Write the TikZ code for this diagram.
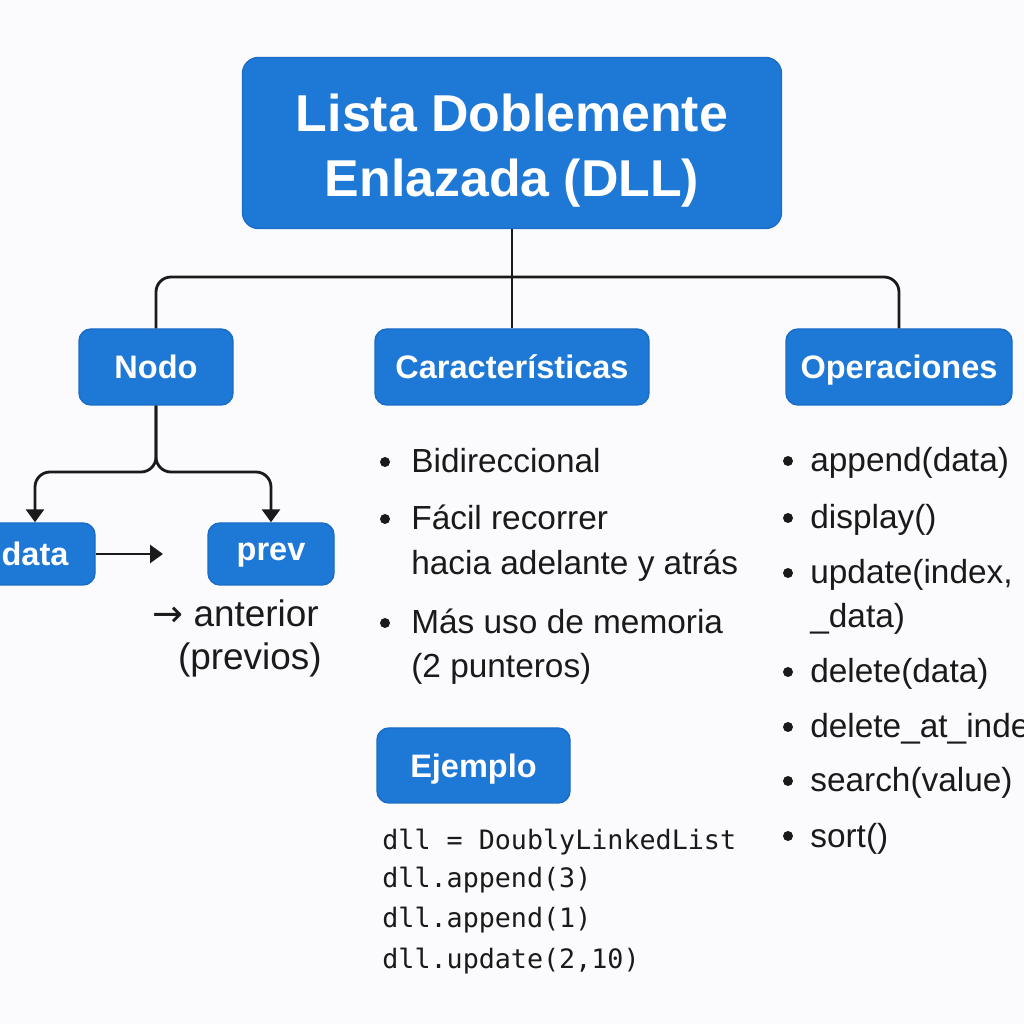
\documentclass[tikz,border=0pt]{standalone}
\usepackage{fontspec}
\setmainfont{Liberation Sans}
\setmonofont{DejaVu Sans Mono}
\newfontfamily\arrowfont{DejaVu Sans}
\usetikzlibrary{arrows.meta}
\definecolor{custom_blue}{HTML}{1E78D6}
\definecolor{custom_edge}{HTML}{1A6CC6}
\definecolor{custom_ink}{HTML}{1A1A1A}
\definecolor{custom_bg}{HTML}{FBFBFD}

\begin{document}
\begin{tikzpicture}[>={Triangle[width=0.36cm,length=0.26cm]},
  box/.style={draw=custom_edge, fill=custom_blue, line width=0.8pt, rounded corners=0.24cm,
    text=white, inner sep=0pt, text height=13.3pt, text depth=0pt,
    font=\fontsize{18.5}{22}\selectfont\bfseries},
  link/.style={custom_ink, line width=1.6pt},
  item/.style={custom_ink, anchor=base west, inner sep=0pt, font=\fontsize{19}{23}\selectfont},
  code/.style={custom_ink, anchor=base west, inner sep=0pt, font=\fontsize{15.2}{18}\selectfont\ttfamily}]

  \fill[custom_bg] (0,0) rectangle (20.48,20.48);
  \useasboundingbox (0,0) rectangle (20.48,20.48);

  % title and the three branches
  \node[box, minimum width=10.78cm, minimum height=3.42cm, rounded corners=0.32cm, align=center,
    text height=, text depth=, font=\fontsize{29.5}{37}\selectfont\bfseries]
    (title) at (10.24,17.62) {\rule{0pt}{30pt}Lista Doblemente\\Enlazada (DLL)};
  \node[box, minimum width=3.08cm, minimum height=1.52cm] (nodo) at (3.12,13.14) {Nodo};
  \node[box, minimum width=5.48cm, minimum height=1.52cm] (car) at (10.24,13.14) {Características};
  \node[box, minimum width=4.52cm, minimum height=1.52cm] (ope) at (17.98,13.14) {Operaciones};

  \coordinate (bar) at (10.24,14.94);
  \draw[link] (title) -- (car);
  \draw[link, rounded corners=0.3cm] (nodo.north) |- (bar) -| (ope.north);

  % the node: data and prev
  \node[box, minimum width=2.4cm, minimum height=1.24cm] (data) at (0.7,9.4) {data};
  \node[box, minimum width=2.52cm, minimum height=1.24cm] (prev) at (5.42,9.4) {\raisebox{3pt}{prev}};

  \coordinate (fork) at (3.12,11.04);
  \coordinate (gap) at (3.26,9.4);
  \draw[link, ->, rounded corners=0.3cm] (nodo.south) -- (fork) -| (data.north);
  \draw[link, ->, rounded corners=0.3cm] (nodo.south) -- (fork) -| (prev.north);
  \draw[link, ->] (data) -- (gap);

  \node[item, anchor=base east, font=\fontsize{21}{25}\selectfont] (ant) at (6.38,7.94) {{\arrowfont →} anterior};
  \node[item, anchor=base east, font=\fontsize{21}{25}\selectfont] (previos) at (6.44,7.08) {(previos)};

  % characteristics
  \node[item] (c1) at (8.22,11.02) {Bidireccional};
  \node[item] (c2) at (8.22,9.88) {Fácil recorrer};
  \node[item] (c2b) at (8.22,8.98) {hacia adelante y atrás};
  \node[item] (c3) at (8.22,7.8) {Más uso de memoria};
  \node[item] (c3b) at (8.22,6.92) {(2 punteros)};
  \fill[custom_ink] (c1.base west) ++(-0.52,0.22) circle (0.1);
  \fill[custom_ink] (c2.base west) ++(-0.52,0.22) circle (0.1);
  \fill[custom_ink] (c3.base west) ++(-0.52,0.22) circle (0.1);

  % example
  \node[box, minimum width=3.86cm, minimum height=1.5cm] (ejemplo) at (9.47,5.17) {Ejemplo};
  \node[code] (l1) at (7.64,3.48) {dll = DoublyLinkedList};
  \node[code] (l2) at (7.64,2.72) {dll.append(3)};
  \node[code] (l3) at (7.64,1.92) {dll.append(1)};
  \node[code] (l4) at (7.64,1.12) {dll.update(2,10)};

  % operations
  \node[item] (o1) at (16.2,11.04) {append(data)};
  \node[item] (o2) at (16.2,9.9) {display()};
  \node[item] (o3) at (16.2,8.8) {update(index,};
  \node[item] (o3b) at (16.2,7.92) {\_data)};
  \node[item] (o4) at (16.2,6.82) {delete(data)};
  \node[item] (o5) at (16.2,5.72) {delete\_at\_index};
  \node[item] (o6) at (16.2,4.64) {search(value)};
  \node[item] (o7) at (16.2,3.54) {sort()};
  \fill[custom_ink] (o1.base west) ++(-0.44,0.22) circle (0.1);
  \fill[custom_ink] (o2.base west) ++(-0.44,0.22) circle (0.1);
  \fill[custom_ink] (o3.base west) ++(-0.44,0.22) circle (0.1);
  \fill[custom_ink] (o4.base west) ++(-0.44,0.22) circle (0.1);
  \fill[custom_ink] (o5.base west) ++(-0.44,0.22) circle (0.1);
  \fill[custom_ink] (o6.base west) ++(-0.44,0.22) circle (0.1);
  \fill[custom_ink] (o7.base west) ++(-0.44,0.22) circle (0.1);

\end{tikzpicture}
\end{document}
